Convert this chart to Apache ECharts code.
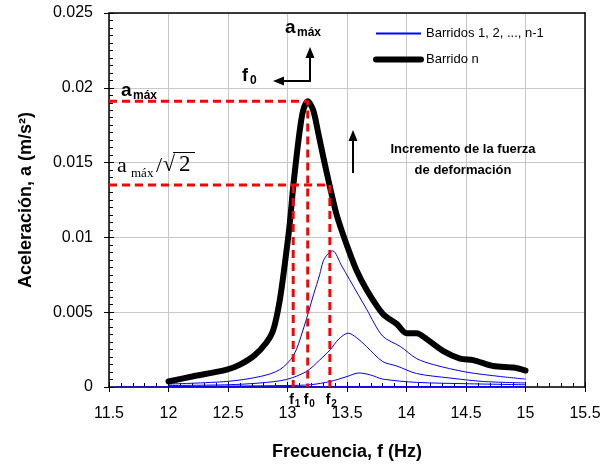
<!DOCTYPE html>
<html><head><meta charset="utf-8">
<script src="https://cdn.jsdelivr.net/npm/echarts@6/dist/echarts.min.js"></script>
<style>html,body{margin:0;padding:0;background:#fff}#c{width:603px;height:465px}</style>
</head><body><div id="c"></div>
<script>
// ---- data ----
const xTicks = [11.5, 15.5, 0.5];      // min, max, step
const yTicks = [0, 0.025, 0.005];

const fN = [12.0,12.2,12.49,12.6,12.72,12.82,12.88,12.935,12.99,13.02,13.048,13.076,13.104,13.132,13.17,13.216,13.258,13.3,13.356,13.41,13.48,13.58,13.665,13.8,13.92,14.0,14.085,14.17,14.31,14.45,14.56,14.73,14.9,15.0];
const aN = [0.00037,0.0007,0.00116,0.0015,0.0021,0.00294,0.0038,0.0058,0.0090,0.0110,0.0134,0.0154,0.0172,0.0185,0.0191,0.0185,0.0170,0.0154,0.0134,0.0116,0.0099,0.0078,0.0065,0.0049,0.0042,0.0036,0.0036,0.0032,0.0024,0.0019,0.0018,0.0014,0.0013,0.0011];

const f1s = [12.0,12.49,12.77,12.935,13.05,13.13,13.22,13.27,13.3,13.34,13.38,13.455,13.52,13.665,13.8,13.95,14.085,14.225,14.5,14.79,15.0];
const a1s = [0.0002,0.00037,0.0007,0.00116,0.0021,0.0038,0.0062,0.0075,0.0084,0.0089,0.0091,0.0081,0.0072,0.0052,0.0034,0.0027,0.0019,0.0015,0.0010,0.0007,0.00053];

const f2s = [12.0,12.5,12.77,12.99,13.16,13.27,13.36,13.43,13.51,13.58,13.665,13.8,13.92,14.085,14.365,14.645,15.0];
const a2s = [0.0001,0.00015,0.00027,0.0005,0.00104,0.0018,0.0025,0.0032,0.0036,0.0033,0.0027,0.0017,0.0014,0.0009,0.0006,0.00037,0.00027];

const f3s = [12.0,12.5,13.0,13.19,13.36,13.5,13.6,13.7,13.8,14.085,14.5,15.0];
const a3s = [0.00004,0.00006,0.0001,0.00015,0.00037,0.0007,0.00094,0.0008,0.00053,0.00031,0.00022,0.00015];

const f4s = [11.55,12.5,13.5,14.5,15.0];
const a4s = [0.00001,0.00001,0.00002,0.00003,0.00003];

const aMax = 0.0191, aHalf = 0.0135;
const f0 = 13.17, f1 = 13.048, f2 = 13.356;
const legendNames = ['Barridos 1, 2, ..., n-1', 'Barrido n'];

// ---- chart ----
const zip = (xs, ys) => xs.map((x, i) => [x, ys[i]]);
const FONT = '"Liberation Sans", Arial, sans-serif';
const chart = echarts.init(document.getElementById('c'), null, {renderer: 'canvas'});

const blue = (xs, ys) => ({type: 'line', name: legendNames[0], data: zip(xs, ys), showSymbol: false, symbol: 'none',
  smooth: 0.3, lineStyle: {color: '#0000ff', width: 1}, itemStyle: {color: '#0000ff'}, silent: true, z: 3});
const red = (pts) => ({type: 'line', data: pts, symbol: 'none', silent: true, z: 5,
  lineStyle: {color: '#ff0000', width: 3, type: [8, 5]}, itemStyle: {color: '#ff0000'}});

const gridLine = {show: true, lineStyle: {color: '#c8c8c8', width: 1}};
const baseAxisLabel = {color: '#000', fontSize: 16, fontFamily: FONT};

chart.setOption({
  animation: false,
  backgroundColor: '#fff',
  grid: {left: 109, right: 18, top: 13, bottom: 78, outerBoundsMode: 'none', containLabel: false},
  legend: {
    data: [legendNames[0], {name: legendNames[1], lineStyle: {width: 6, cap: 'round'}}],
    orient: 'vertical', left: 368, top: 22, itemWidth: 45, itemHeight: 14, itemGap: 13,
    itemStyle: {opacity: 0},
    textStyle: {color: '#000', fontSize: 13, fontFamily: FONT}, selectedMode: false
  },
  xAxis: [
    {type: 'value', min: xTicks[0], max: xTicks[1], interval: xTicks[2], position: 'bottom',
     axisLine: {show: true, onZero: false, lineStyle: {color: '#000', width: 1.5}},
     axisTick: {show: true, inside: true, length: 5, lineStyle: {color: '#000'}},
     minorTick: {show: true, splitNumber: 5, length: 4, lineStyle: {color: '#000'}},
     axisLabel: Object.assign({margin: 19}, baseAxisLabel),
     splitLine: gridLine,
     name: 'Frecuencia, f (Hz)', nameLocation: 'middle', nameGap: 56,
     nameTextStyle: {color: '#000', fontSize: 18, fontWeight: 'bold', fontFamily: FONT}},
    {type: 'value', min: xTicks[0], max: xTicks[1], interval: xTicks[2], position: 'bottom',
     axisLine: {show: false}, axisTick: {show: true, inside: false, length: 5, lineStyle: {color: '#000'}},
     axisLabel: {show: false}, splitLine: {show: false}},
    {type: 'value', min: xTicks[0], max: xTicks[1], position: 'top',
     axisLine: {show: true, onZero: false, lineStyle: {color: '#000', width: 1.5}},
     axisTick: {show: false}, axisLabel: {show: false}, splitLine: {show: false}}
  ],
  yAxis: [
    {type: 'value', min: yTicks[0], max: yTicks[1], interval: yTicks[2], position: 'left',
     axisLine: {show: true, onZero: false, lineStyle: {color: '#000', width: 1.5}},
     axisTick: {show: true, inside: true, length: 5, lineStyle: {color: '#000'}},
     minorTick: {show: true, splitNumber: 10, length: 4, lineStyle: {color: '#000'}},
     axisLabel: Object.assign({margin: 16}, baseAxisLabel),
     splitLine: gridLine,
     name: 'Aceleración, a (m/s²)', nameLocation: 'middle', nameGap: 74, nameRotate: 90,
     nameTextStyle: {color: '#000', fontSize: 18, fontWeight: 'bold', fontFamily: FONT}},
    {type: 'value', min: yTicks[0], max: yTicks[1], interval: yTicks[2], position: 'left',
     axisLine: {show: false}, axisTick: {show: true, inside: false, length: 5, lineStyle: {color: '#000'}},
     axisLabel: {show: false}, splitLine: {show: false}},
    {type: 'value', min: yTicks[0], max: yTicks[1], position: 'right',
     axisLine: {show: true, onZero: false, lineStyle: {color: '#000', width: 1.5}},
     axisTick: {show: false}, axisLabel: {show: false}, splitLine: {show: false}}
  ],
  series: [
    blue(f4s, a4s), blue(f3s, a3s), blue(f2s, a2s), blue(f1s, a1s),
    {type: 'line', name: legendNames[1], data: zip(fN, aN), symbol: 'none', smooth: 0.3, silent: true, z: 4,
     lineStyle: {color: '#000', width: 6, cap: 'round', join: 'round'}, itemStyle: {color: '#000'}},
    red([[xTicks[0], aMax], [f0, aMax], [f0, 0]]),
    red([[xTicks[0], aHalf], [f2, aHalf]]),
    red([[f1, aHalf], [f1, 0]]),
    red([[f2, aHalf], [f2, 0]])
  ]
});

// ---- annotations ----
const P = (x, y) => chart.convertToPixel({xAxisIndex: 0, yAxisIndex: 0}, [x, y]);
const txt = (x, y, text, font, align) => ({type: 'text', x, y, z: 100, silent: true,
  style: {text, font, fill: '#000', textAlign: align || 'left', textVerticalAlign: 'middle'}});
const B = (s) => 'bold ' + s + 'px ' + FONT;
const SERIF = (s) => s + 'px "Liberation Serif", "Times New Roman", serif';
const arrowUp = (x, yTip) => ({type: 'polygon', z: 100, silent: true, shape: {points: [[x, yTip], [x - 4.5, yTip + 11], [x + 4.5, yTip + 11]]}, style: {fill: '#000'}});
const arrowLeft = (xTip, y) => ({type: 'polygon', z: 100, silent: true, shape: {points: [[xTip, y], [xTip + 11, y - 4.5], [xTip + 11, y + 4.5]]}, style: {fill: '#000'}});

const els = [];
// a_max near left
els.push(txt(121, 91, 'a', B(19)), txt(133, 96, 'máx', B(12)));
// a_max / sqrt(2)
els.push(txt(117, 166, 'a', SERIF(22)), txt(131, 174, 'máx', SERIF(13)), txt(156, 166, '/', SERIF(22)),
  txt(163, 165, '√', SERIF(22)), txt(179, 165, '2', SERIF(23)),
  {type: 'line', z: 100, silent: true, shape: {x1: 173, y1: 152.5, x2: 195, y2: 152.5}, style: {stroke: '#000', lineWidth: 1}});
// top a_max and f0 with L arrow
els.push(txt(285, 28, 'a', B(19)), txt(297, 33, 'máx', B(12)));
els.push(txt(242, 76, 'f', B(18)), txt(250, 81, '0', B(12)));
els.push({type: 'polyline', z: 100, silent: true, shape: {points: [[310, 57], [310, 81], [282, 81]]}, style: {stroke: '#000', lineWidth: 2, fill: null}});
els.push(arrowUp(310, 47), arrowLeft(273, 81));
// increment arrow and text
els.push({type: 'line', z: 100, silent: true, shape: {x1: 353, y1: 173, x2: 353, y2: 138}, style: {stroke: '#000', lineWidth: 2}});
els.push(arrowUp(353, 130));
els.push(txt(463, 149, 'Incremento de la fuerza', B(13), 'center'), txt(463, 170, 'de deformación', B(13), 'center'));
// f1 f0 f2 labels under the axis
[[f1, '1'], [f0, '0'], [f2, '2']].forEach(([f, s]) => {
  const p = P(f, 0);
  els.push(txt(p[0] - 4, p[1] + 13, 'f', B(14)), txt(p[0] + 1.5, p[1] + 17, s, B(10)));
});
chart.setOption({graphic: {elements: els}});
</script>
</body></html>
